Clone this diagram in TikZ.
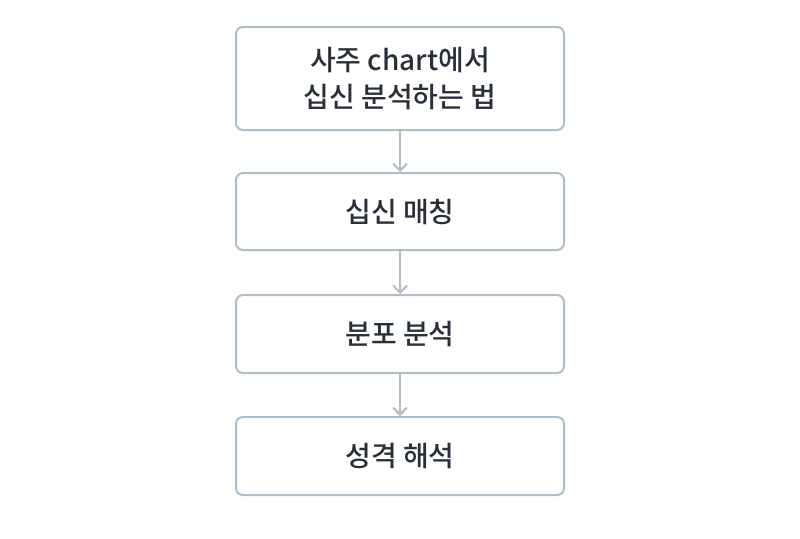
\documentclass[tikz,border=0pt]{standalone}
\usepackage{fontspec}
\newfontfamily\kr{Noto Sans CJK KR}[UprightFont=* Medium, BoldFont=* Bold]
\usetikzlibrary{arrows.meta}
\definecolor{edge}{HTML}{B4BCC6}
\definecolor{ink}{HTML}{2A2F37}
\tikzset{
  stepbox/.style={draw=edge, line width=2pt, rounded corners=7pt, minimum width=328pt, align=center, text=ink, font=\kr\fontsize{28}{37}\selectfont},
  conn/.style={draw=edge, line width=2pt, -{Straight Barb[length=7pt,width=14pt]}}
}
\begin{document}
\begin{tikzpicture}[x=1pt,y=-1pt]
\useasboundingbox[fill=white] (0,0) rectangle (800,538);
\node[stepbox, minimum height=103pt] (a) at (400,78.5) {사주 chart에서\\십신 분석하는 법};
\node[stepbox, minimum height=77pt] (b) at (400,211.5) {십신 매칭};
\node[stepbox, minimum height=78pt] (c) at (400,334) {분포 분석};
\node[stepbox, minimum height=78pt] (d) at (400,456) {성격 해석};
\draw[conn] (a) -- (b);
\draw[conn] (b) -- (c);
\draw[conn] (c) -- (d);
\end{tikzpicture}
\end{document}
